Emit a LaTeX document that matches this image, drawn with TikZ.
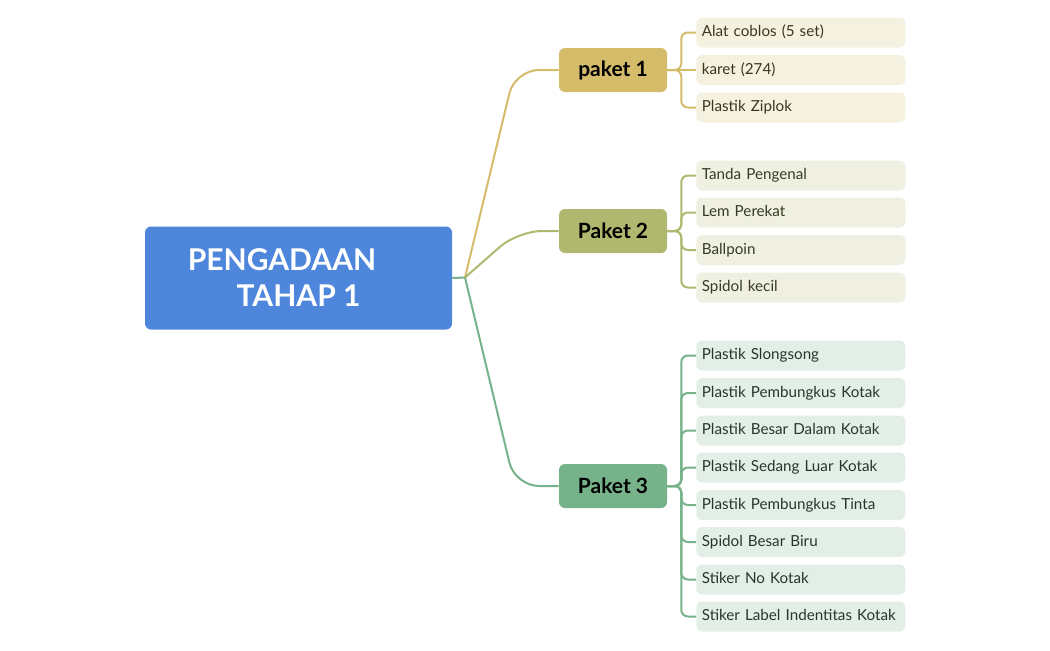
\documentclass[tikz,border=0pt]{standalone}
\usepackage{fontspec}
\setmainfont{Lato}
\definecolor{rootblue}{HTML}{4E86DB}
\definecolor{pkA}{HTML}{D4BC6A}
\definecolor{pkB}{HTML}{AFB86E}
\definecolor{pkC}{HTML}{76B28A}
\definecolor{lfA}{HTML}{F5F1E1}
\definecolor{lfB}{HTML}{EFF0E2}
\definecolor{lfC}{HTML}{E3EFE6}
\definecolor{txA}{HTML}{3B371C}
\definecolor{txB}{HTML}{383B22}
\definecolor{txC}{HTML}{24382A}
\begin{document}
\begin{tikzpicture}[x=0.75pt,y=-0.75pt]
    \tikzstyle{root}=[fill=rootblue, rounded corners=4.5pt, minimum width=230.25pt, minimum height=77.25pt, text=white, align=center, font=\fontsize{22.5}{27}\selectfont\bfseries]
    \tikzstyle{paket}=[rounded corners=4.5pt, minimum width=81pt, minimum height=33pt, font=\fontsize{15.75}{18}\selectfont\bfseries]
    \tikzstyle{leaf}=[anchor=west, rounded corners=4.5pt, text width=148.5pt, inner xsep=4.2pt, inner ysep=0pt, text height=8.5pt, text depth=2.5pt, minimum height=22.5pt, align=left, font=\fontsize{11.4}{13}\selectfont]
    \tikzstyle{link}=[line width=1.5pt, rounded corners=18pt]
    \tikzstyle{twig}=[line width=1.5pt, rounded corners=5pt]
    \useasboundingbox (0,0) rectangle (1050,650);
    \node [root] (root) at (298.5,278) {PENGADAAN\hspace*{1.1em}\\TAHAP 1};
    \coordinate (hub) at (465,277.5);
    \node [paket, fill=pkA] (p1) at (613,70) {paket 1};
    \node [paket, fill=pkB] (p2) at (613,231) {Paket 2};
    \node [paket, fill=pkC] (p3) at (613,486) {Paket 3};
    \node [leaf, fill=lfA, text=txA] (a1) at (696,32.5) {Alat coblos (5 set)};
    \node [leaf, fill=lfA, text=txA] (a2) at (696,70) {karet (274)};
    \node [leaf, fill=lfA, text=txA] (a3) at (696,107.5) {Plastik Ziplok};
    \node [leaf, fill=lfB, text=txB] (b1) at (696,175.5) {Tanda Pengenal};
    \node [leaf, fill=lfB, text=txB] (b2) at (696,212.5) {Lem Perekat};
    \node [leaf, fill=lfB, text=txB] (b3) at (696,250) {Ballpoin};
    \node [leaf, fill=lfB, text=txB] (b4) at (696,287.5) {Spidol kecil};
    \node [leaf, fill=lfC, text=txC] (c1) at (696,355.5) {Plastik Slongsong};
    \node [leaf, fill=lfC, text=txC] (c2) at (696,393) {Plastik Pembungkus Kotak};
    \node [leaf, fill=lfC, text=txC] (c3) at (696,430.5) {Plastik Besar Dalam Kotak};
    \node [leaf, fill=lfC, text=txC] (c4) at (696,467.5) {Plastik Sedang Luar Kotak};
    \node [leaf, fill=lfC, text=txC] (c5) at (696,505) {Plastik Pembungkus Tinta};
    \node [leaf, fill=lfC, text=txC] (c6) at (696,542) {Spidol Besar Biru};
    \node [leaf, fill=lfC, text=txC] (c7) at (696,579.5) {Stiker No Kotak};
    \node [leaf, fill=lfC, text=txC] (c8) at (696,616.5) {Stiker Label Indentitas Kotak};
    \draw [pkC, line width=1.5pt] (root.east) -- (hub);
    \draw [link, pkA] (hub) -- (515,70) -- (p1.west);
    \draw [link, pkB] (hub) -- (518,231) -- (p2.west);
    \draw [link, pkC] (hub) -- (515,486) -- (p3.west);
    \foreach \l in {a1,a3} \draw [twig, pkA] (p1.east) -- ++(14,0) |- (\l.west);
    \draw [twig, pkA] (p1.east) -- (a2.west);
    \foreach \l in {b1,b2,b3,b4} \draw [twig, pkB] (p2.east) -- ++(14,0) |- (\l.west);
    \foreach \l in {c1,c2,c3,c4,c5,c6,c7,c8} \draw [twig, pkC] (p3.east) -- ++(14,0) |- (\l.west);
\end{tikzpicture}
\end{document}
